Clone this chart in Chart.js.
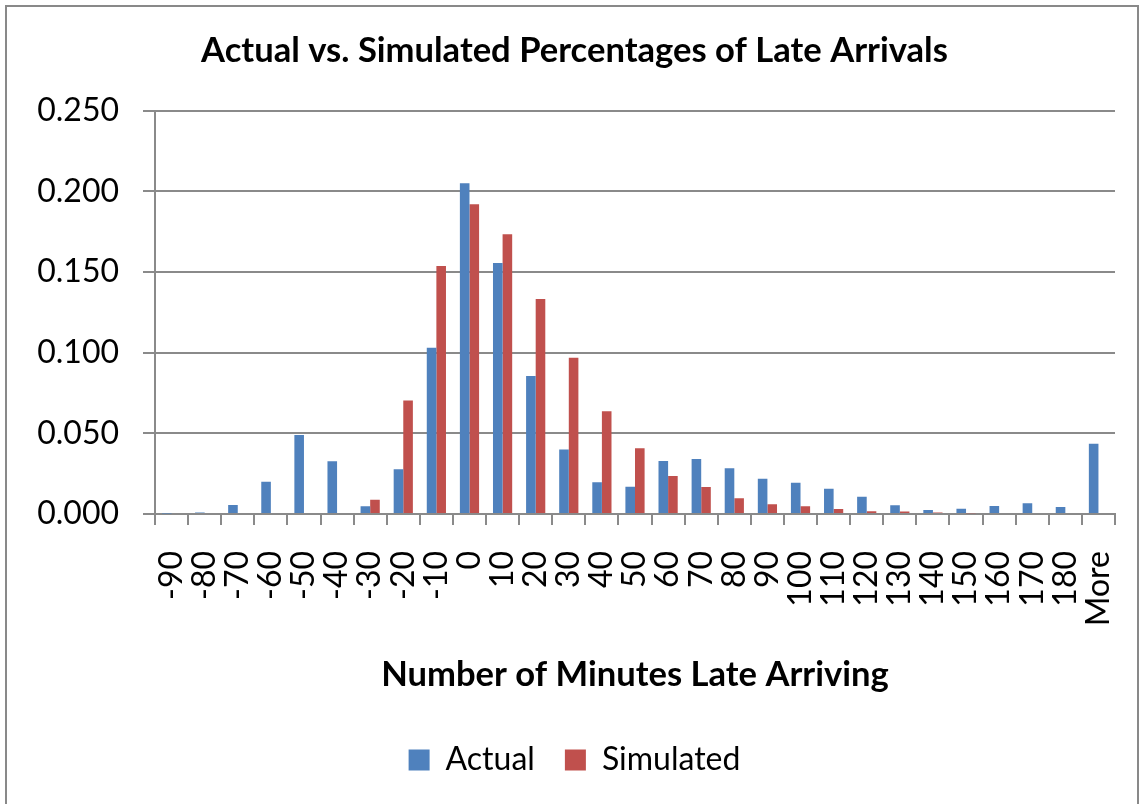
<!DOCTYPE html>
<html>
<head>
<meta charset="utf-8">
<script src="https://cdn.jsdelivr.net/npm/chart.js@4"></script>
<style>
  body { margin: 0; background: #fff; }
  #frame {
    position: absolute; left: 5px; top: 5px; width: 1134px; height: 830px;
    border: 2px solid #898989; box-sizing: border-box;
  }
  #chart { position: absolute; left: 0; top: 0; }
</style>
</head>
<body>
<div id="frame"></div>
<canvas id="chart" width="1143" height="804"></canvas>
<script>
// minutes late buckets (bin upper edges)
const minutes = ['-90', '-80', '-70', '-60', '-50', '-40', '-30', '-20', '-10', '0',
  '10', '20', '30', '40', '50', '60', '70', '80', '90', '100',
  '110', '120', '130', '140', '150', '160', '170', '180', 'More'];

// share of arrivals per bucket
const actual = [0.0003, 0.001, 0.0056, 0.020, 0.049, 0.0327, 0.0048, 0.0277, 0.103, 0.205,
  0.1555, 0.0855, 0.040, 0.0196, 0.0169, 0.0328, 0.0341, 0.0283, 0.0219, 0.0194,
  0.0157, 0.0107, 0.0054, 0.0025, 0.0033, 0.005, 0.0066, 0.0043, 0.0436];

const simulated = [0, 0, 0, 0, 0, 0, 0.0088, 0.0703, 0.1537, 0.1919,
  0.1733, 0.1332, 0.0968, 0.0636, 0.0407, 0.0235, 0.0167, 0.0097, 0.006, 0.0048,
  0.0031, 0.0017, 0.0015, 0.001, 0.0005, 0, 0, 0, 0];

const yTicks = [0, 0.05, 0.1, 0.15, 0.2, 0.25];

const fontFamily = 'Lato, "Open Sans", sans-serif';
const gridGrey = '#8a8a8a';

const ctx = document.getElementById('chart').getContext('2d');

new Chart(ctx, {
  type: 'bar',
  data: {
    labels: minutes,
    datasets: [
      { label: 'Actual', data: actual, backgroundColor: '#4F81BD',
        categoryPercentage: 0.58, barPercentage: 1.0 },
      { label: 'Simulated', data: simulated, backgroundColor: '#C0504D',
        categoryPercentage: 0.58, barPercentage: 1.0 }
    ]
  },
  options: {
    responsive: false,
    animation: false,
    layout: { padding: { left: 34, right: 28, top: 0, bottom: 18 } },
    plugins: {
      title: {
        display: true,
        text: 'Actual vs. Simulated Percentages of Late Arrivals',
        color: '#000',
        font: { family: fontFamily, size: 34.6, weight: 'bold' },
        padding: { top: 30, bottom: 39 }
      },
      legend: {
        position: 'bottom',
        labels: {
          color: '#000',
          boxWidth: 21,
          boxHeight: 21,
          padding: 30,
          font: { family: fontFamily, size: 32 }
        }
      },
      tooltip: { enabled: false }
    },
    scales: {
      y: {
        min: 0,
        max: 0.25,
        afterBuildTicks: (scale) => { scale.ticks = yTicks.map(v => ({ value: v })); },
        afterFit: (scale) => { scale.width = 121; },
        ticks: {
          color: '#000',
          padding: 24,
          font: { family: fontFamily, size: 32 },
          callback: (v) => Number(v).toFixed(3)
        },
        grid: { color: gridGrey, lineWidth: 2, tickLength: 12 },
        border: { color: gridGrey, width: 2 }
      },
      x: {
        afterFit: (scale) => {
          scale.height = 200;
          // rotated labels fit inside the plot width, no extra side padding
          scale.paddingLeft = 0;
          scale.paddingRight = 0;
        },
        ticks: {
          color: '#000',
          padding: 26,
          minRotation: 90,
          maxRotation: 90,
          autoSkip: false,
          font: { family: fontFamily, size: 32 }
        },
        grid: { drawOnChartArea: false, color: gridGrey, lineWidth: 2, tickLength: 11 },
        border: { color: gridGrey, width: 2 },
        title: {
          display: true,
          text: 'Number of Minutes Late Arriving',
          color: '#000',
          font: { family: fontFamily, size: 34.6, weight: 'bold' },
          padding: { top: 0, bottom: 18 }
        }
      }
    }
  }
});
</script>
</body>
</html>
